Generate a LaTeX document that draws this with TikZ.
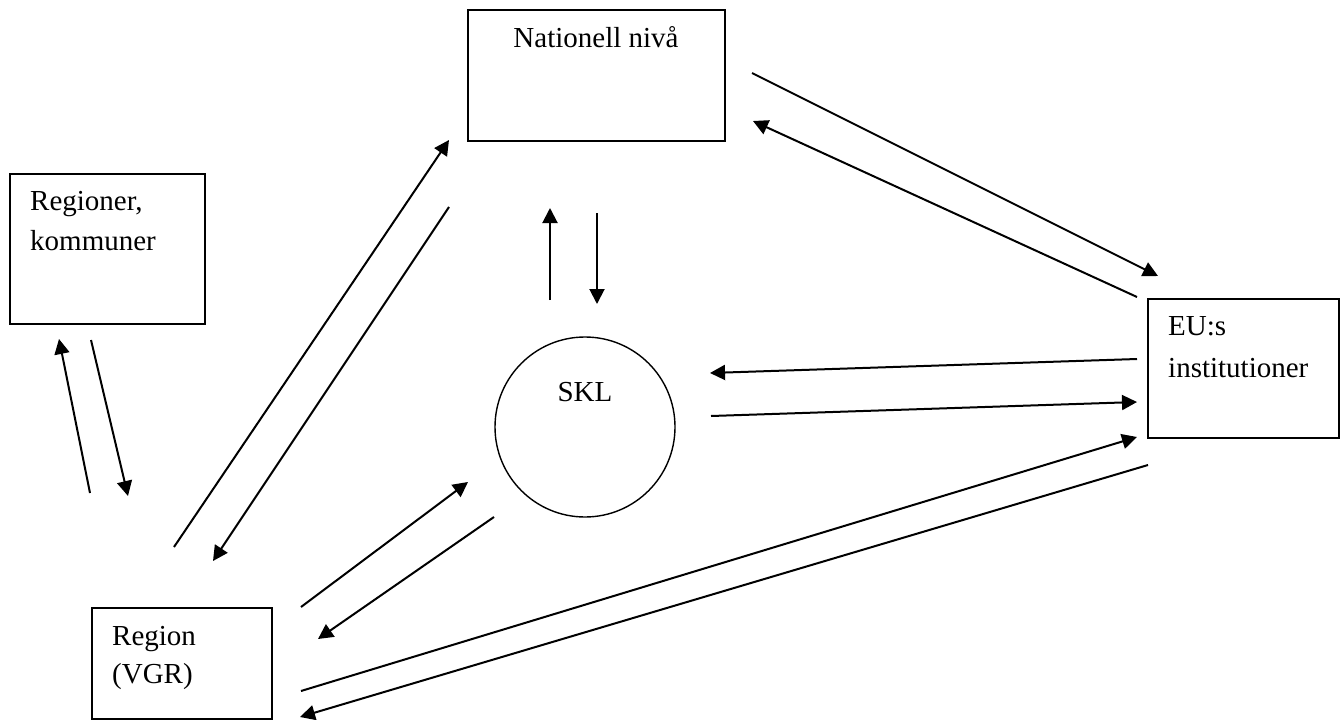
\documentclass[tikz,border=0pt]{standalone}
\usepackage{fontspec}
\setmainfont{Liberation Serif}
\usetikzlibrary{arrows.meta}
\begin{document}
\begin{tikzpicture}[x=1pt,y=-1pt,
  box/.style={draw, line width=1.8pt, inner sep=0pt, anchor=north west},
  lbl/.style={inner sep=0pt, font=\fontsize{29}{35}\selectfont},
  arr/.style={line width=2pt, -{Triangle[length=15pt,width=15pt]}}]
\useasboundingbox (0,0) rectangle (1344,720);
\fill[white] (0,0) rectangle (1344,720);
% boxes
\node[box, minimum width=257pt, minimum height=131pt] (nat) at (467,9) {};
\node[box, minimum width=195pt, minimum height=150pt] (rk) at (9,173) {};
\node[box, minimum width=191pt, minimum height=139pt] (eu) at (1147,298) {};
\node[box, minimum width=180pt, minimum height=111pt] (vgr) at (91,607) {};
\node[draw, line width=1.4pt, circle, minimum size=180pt, inner sep=0pt] (skl) at (585,427) {};
% labels
\node[lbl, anchor=base] (natt) at (596,47) {Nationell nivå};
\node[lbl, anchor=base west] (rka) at (30,210) {Regioner,};
\node[lbl, anchor=base west] (rkb) at (30,250) {kommuner};
\node[lbl, anchor=base west] (eua) at (1168,335) {EU:s};
\node[lbl, anchor=base west] (eub) at (1168,377) {institutioner};
\node[lbl, anchor=base west] (vgra) at (112,645) {Region};
\node[lbl, anchor=base west] (vgrb) at (112,683) {(VGR)};
\node[lbl, anchor=base] (sklt) at (585,401) {SKL};
% arrow end points
\coordinate (a1s) at (752,73);   \coordinate (a1e) at (1158,276);
\coordinate (a2s) at (1137,297); \coordinate (a2e) at (753,121);
\coordinate (a3s) at (550,300);  \coordinate (a3e) at (550,208);
\coordinate (a4s) at (597,213);  \coordinate (a4e) at (597,304);
\coordinate (a5s) at (1137,359); \coordinate (a5e) at (710,373);
\coordinate (a6s) at (711,416);  \coordinate (a6e) at (1137,402);
\coordinate (a7s) at (301,691);  \coordinate (a7e) at (1137,437);
\coordinate (a8s) at (1148,465); \coordinate (a8e) at (300,717);
\coordinate (a9s) at (301,607);  \coordinate (a9e) at (468,482);
\coordinate (a10s) at (494,517); \coordinate (a10e) at (318,639);
\coordinate (a11s) at (174,547); \coordinate (a11e) at (449,140);
\coordinate (a12s) at (449,207); \coordinate (a12e) at (213,561);
\coordinate (a13s) at (90,493);  \coordinate (a13e) at (59,339);
\coordinate (a14s) at (91,340);  \coordinate (a14e) at (128,496);
% arrows
\draw[arr] (a1s) -- (a1e);
\draw[arr] (a2s) -- (a2e);
\draw[arr] (a3s) -- (a3e);
\draw[arr] (a4s) -- (a4e);
\draw[arr] (a5s) -- (a5e);
\draw[arr] (a6s) -- (a6e);
\draw[arr] (a7s) -- (a7e);
\draw[arr] (a8s) -- (a8e);
\draw[arr] (a9s) -- (a9e);
\draw[arr] (a10s) -- (a10e);
\draw[arr] (a11s) -- (a11e);
\draw[arr] (a12s) -- (a12e);
\draw[arr] (a13s) -- (a13e);
\draw[arr] (a14s) -- (a14e);
\end{tikzpicture}
\end{document}
